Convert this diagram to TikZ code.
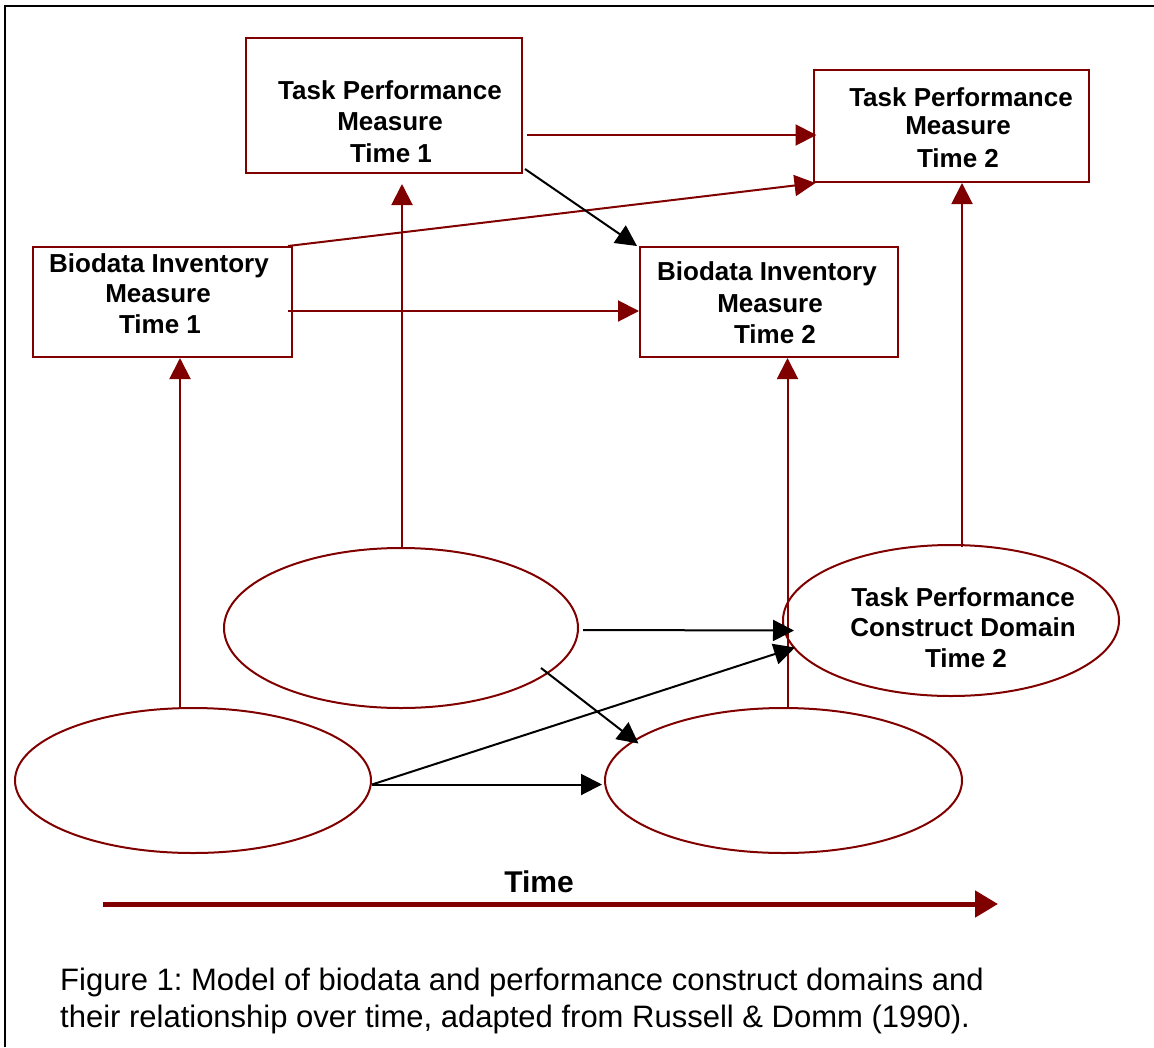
\documentclass[tikz,border=0pt]{standalone}
\usepackage{fontspec}
\setmainfont{Liberation Sans}
\usetikzlibrary{arrows.meta,shapes.geometric}
\definecolor{dred}{HTML}{800000}
\frenchspacing
\begin{document}
\begin{tikzpicture}[x=1pt,y=-1pt,
  boxnode/.style={draw=dred,line width=2pt,inner sep=0pt,rectangle},
  domainell/.style={draw=dred,line width=2pt,inner sep=0pt,ellipse},
  lbl/.style={anchor=base,inner sep=0pt,font=\fontsize{26}{31}\selectfont\bfseries},
  captext/.style={anchor=base west,inner sep=0pt,font=\fontsize{31}{41}\selectfont},
  redarr/.style={draw=dred,line width=2pt,-{Triangle[length=21pt,width=21pt]}},
  blkarr/.style={draw=black,line width=2pt,-{Triangle[length=21pt,width=21pt]}}]
\useasboundingbox (0,0) rectangle (1154,1047);
% frame
\draw[line width=2pt] (5,1047) -- (5,6) -- (1154,6);

% boxes
\node[boxnode,minimum width=276pt,minimum height=135pt] (tp1) at (384,105.5) {};
\node[boxnode,minimum width=259pt,minimum height=110pt] (bi1) at (162.5,302) {};
\node[boxnode,minimum width=275pt,minimum height=112pt] (tp2) at (951,126) {};
\node[boxnode,minimum width=258pt,minimum height=110pt] (bi2) at (769,302) {};

% ellipses
\node[domainell,minimum width=354pt,minimum height=160pt] (et) at (401,628) {};
\node[domainell,minimum width=356pt,minimum height=145pt] (ebl) at (193,780.5) {};
\node[domainell,minimum width=336pt,minimum height=151pt] (etc) at (951,620.5) {};
\node[domainell,minimum width=357pt,minimum height=145pt] (ebr) at (783.5,780.5) {};

% labels
\node[lbl] (tp1a) at (390,99) {Task Performance};
\node[lbl] (tp1b) at (390,130) {Measure};
\node[lbl] (tp1c) at (391,162) {Time 1};
\node[lbl] (bi1a) at (159,272) {Biodata Inventory};
\node[lbl] (bi1b) at (158,302) {Measure};
\node[lbl] (bi1c) at (160,333) {Time 1};
\node[lbl] (tp2a) at (961,106) {Task Performance};
\node[lbl] (tp2b) at (958,134) {Measure};
\node[lbl] (tp2c) at (958,167) {Time 2};
\node[lbl] (bi2a) at (767,280) {Biodata Inventory};
\node[lbl] (bi2b) at (770,312) {Measure};
\node[lbl] (bi2c) at (775,343) {Time 2};
\node[lbl] (tcda) at (963,606) {Task Performance};
\node[lbl] (tcdb) at (963,636) {Construct Domain};
\node[lbl] (tcdc) at (966,667) {Time 2};

% red arrows
\draw[redarr] ([xshift=4pt]tp1.east |- 0,135) -- ([xshift=4pt]tp2.west |- 0,135);
\draw[redarr] ([xshift=-5pt]bi1.north east) -- ([xshift=3pt]tp2.south west);
\draw[redarr] ([xshift=-5pt]bi1.east |- 0,311) -- (bi2.west |- 0,311);
\draw[redarr] ([xshift=-13pt]ebl.north) -- ([xshift=-13pt]ebl.north |- bi1.south);
\draw[redarr,shorten >=10pt] ([xshift=1pt]et.north) -- ([xshift=1pt]et.north |- tp1.south);
\draw[redarr] ([xshift=4pt]ebr.north) -- ([xshift=4pt]ebr.north |- bi2.south);
\draw[redarr] ([shift={(11,3)}]etc.north) -- ([xshift=11pt]etc.north |- tp2.south);

% black arrows
\draw[blkarr] ([shift={(2,-5)}]tp1.south east) -- ([xshift=-2pt]bi2.north west);
\draw[blkarr] ([shift={(4,2)}]et.east) -- ([shift={(12,10)}]etc.west);
\draw[blkarr] ([shift={(140,40)}]et.center) -- ([shift={(-145,-37)}]ebr.center);
\draw[blkarr] ([shift={(0,4)}]ebl.east) -- ([shift={(-156,27)}]etc.center);
\draw[blkarr] ([shift={(0,4)}]ebl.east) -- ([shift={(-2,4)}]ebr.west);

% time axis
\coordinate (ta) at (103,904);
\coordinate (tb) at (998,904);
\draw[draw=dred,line width=5pt,-{Triangle[length=23pt,width=26pt]}] (ta) -- (tb);
\node[anchor=base,inner sep=0pt,font=\fontsize{30}{36}\selectfont\bfseries] (tlabel) at (539,892) {Time};

% caption
\node[captext] (cap1) at (60,990) {Figure 1: Model of biodata and performance construct domains and};
\node[captext] (cap2) at (60,1027) {their relationship over time, adapted from Russell \& Domm (1990).};
\end{tikzpicture}
\end{document}
